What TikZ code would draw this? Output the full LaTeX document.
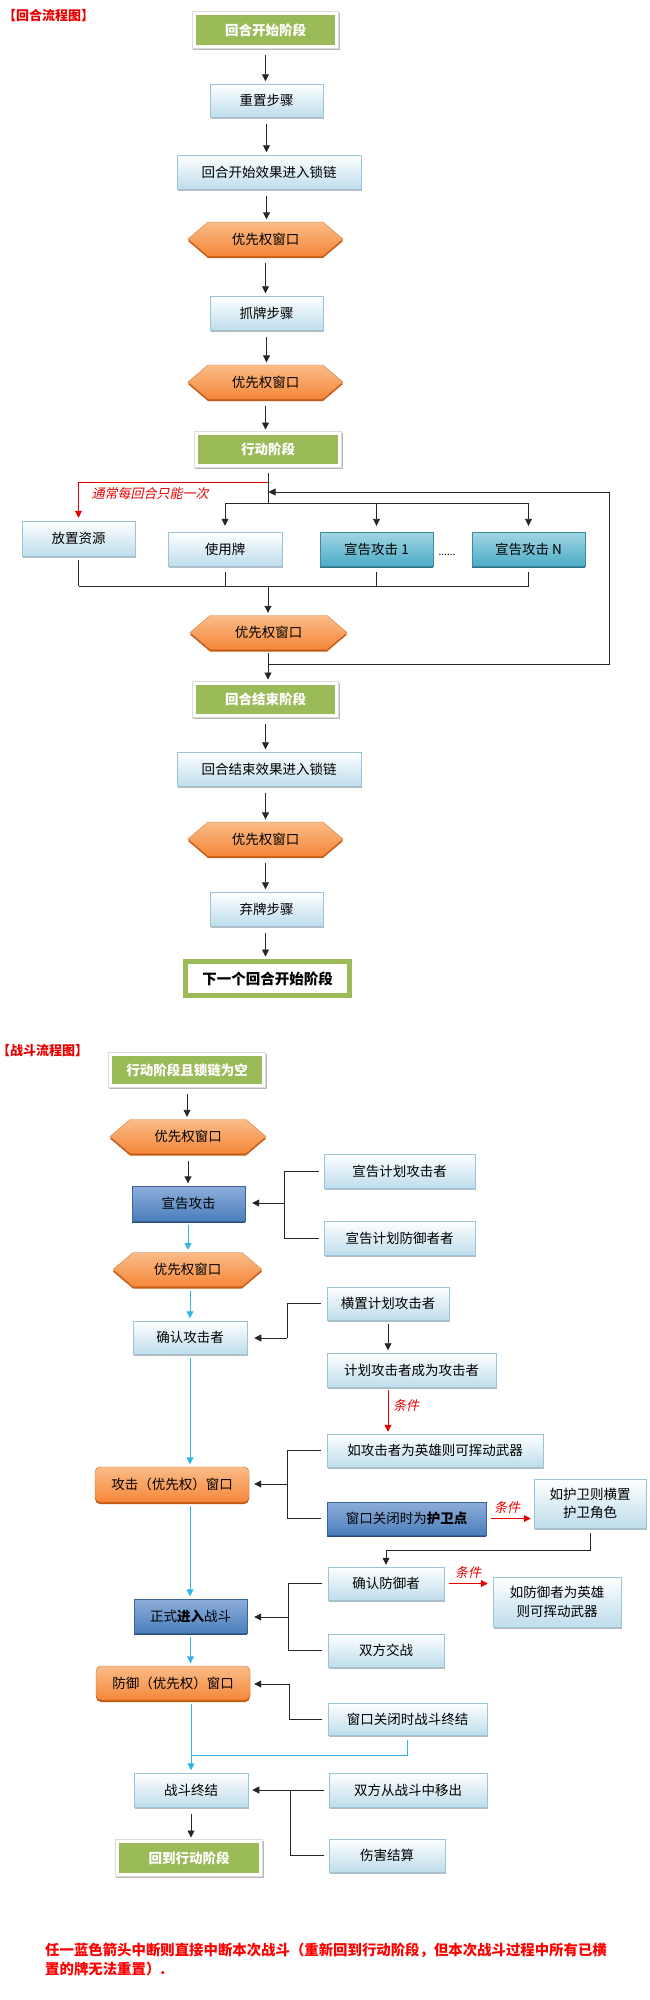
\documentclass[tikz,border=0pt]{standalone}
\usepackage{fontspec}
\setmainfont{Noto Sans CJK SC}
\newfontfamily\slfont[FakeSlant=0.22]{Noto Sans CJK SC}
\usetikzlibrary{arrows.meta,shadows}
\definecolor{gfill}{HTML}{9BBB59}
\definecolor{lbbot}{HTML}{BEDDEC}
\definecolor{lbdraw}{HTML}{9CC3D8}
\definecolor{tealtop}{HTML}{A3D6E5}
\definecolor{tealbot}{HTML}{4BACC6}
\definecolor{tealedge}{HTML}{2C6F82}
\definecolor{bltop}{HTML}{8EAEDC}
\definecolor{blbot}{HTML}{4A7EBB}
\definecolor{bledge}{HTML}{2B4A74}
\definecolor{ortop}{HTML}{FABC88}
\definecolor{orbot}{HTML}{F5873A}
\definecolor{oredge}{HTML}{C65A12}
\definecolor{skyb}{HTML}{33B5E8}
\definecolor{redc}{HTML}{E80000}
\newcommand{\bodyfont}{\fontsize{13.5}{16}\selectfont}
% #1 name, #2 x, #3 y, #4 half width, #5 text
\newcommand{\hexnode}[5]{%
  \fill[oredge] ({#2-#4},{#3+2}) -- ({#2-#4+20},{#3-15}) -- ({#2+#4-20},{#3-15}) -- ({#2+#4},{#3+2}) -- ({#2+#4-20},{#3+19}) -- ({#2-#4+20},{#3+19}) -- cycle;
  \shade[top color=ortop, bottom color=orbot, draw=orbot!85!black, line width=0.3pt] ({#2-#4},{#3}) -- ({#2-#4+20},{#3-17}) -- ({#2+#4-20},{#3-17}) -- ({#2+#4},{#3}) -- ({#2+#4-20},{#3+17}) -- ({#2-#4+20},{#3+17}) -- cycle;
  \node[hexbox, minimum width=2*#4pt] (#1) at (#2,#3) {#5};
}
\begin{document}
\begin{tikzpicture}[x=1pt,y=-1pt,
  bx/.style={rectangle, inner sep=0pt, align=center, font=\bodyfont, text=black},
  hexbox/.style={bx, minimum height=34pt},
  lbox/.style={bx, top color=white, bottom color=lbbot, draw=lbdraw, line width=0.5pt,
     drop shadow={shadow xshift=0.6pt, shadow yshift=-1.8pt, fill=black!45, opacity=0.6}},
  tbox/.style={bx, top color=tealtop, bottom color=tealbot, draw=tealbot!80!black, line width=0.4pt,
     drop shadow={shadow xshift=0pt, shadow yshift=-2pt, fill=tealedge, opacity=1}},
  dbox/.style={bx, top color=bltop, bottom color=blbot, draw=blbot!80!black, line width=0.4pt,
     drop shadow={shadow xshift=0pt, shadow yshift=-2pt, fill=bledge, opacity=1}},
  obox/.style={bx, rounded corners=5pt, top color=ortop, bottom color=orbot, draw=orbot!85!black, line width=0.4pt,
     drop shadow={shadow xshift=0pt, shadow yshift=-2pt, fill=oredge, opacity=1}},
  gbox/.style={bx, fill=gfill, text=white, font=\bodyfont\bfseries, draw=white, line width=3pt,
     preaction={draw=black!28, fill=black!28, line width=4.6pt, transform canvas={xshift=1.2pt,yshift=-1.6pt}},
     preaction={draw=black!14, line width=4.6pt}},
  ln/.style={line width=0.9pt, draw=black!85},
  arr/.style={ln, -{Triangle[length=7pt,width=7pt]}},
  va/.style={arr, shorten <=7pt, shorten >=2.5pt},
  bln/.style={line width=1pt, draw=skyb},
  barr/.style={bln, -{Triangle[length=7pt,width=7pt]}, shorten <=4pt, shorten >=2.5pt},
  rarr/.style={line width=0.9pt, draw=redc, -{Triangle[length=7pt,width=7pt]}},
  rlab/.style={font=\slfont\fontsize{13}{15}\selectfont, text=redc, inner sep=0pt},
  ttl/.style={font=\fontsize{13}{15}\selectfont\bfseries, text=redc, inner sep=0pt, anchor=west}
]
\fill[white] (0,0) rectangle (649,2000);
\useasboundingbox (0,0) rectangle (649,2000);

% ================= round flow chart =================
\node[ttl] (t1) at (3,16) {【回合流程图】};
\node[gbox, minimum width=142pt, minimum height=33pt] (g1) at (265.5,30) {回合开始阶段};
\node[lbox, minimum width=113pt, minimum height=33pt] (b1) at (266.5,100.5) {重置步骤};
\node[lbox, minimum width=184pt, minimum height=34pt] (b2) at (269,172) {回合开始效果进入锁链};
\hexnode{h1}{265.5}{239}{77.5}{优先权窗口}
\node[lbox, minimum width=113pt, minimum height=34pt] (b3) at (266.5,313) {抓牌步骤};
\hexnode{h2}{265.5}{382}{77.5}{优先权窗口}
\node[gbox, minimum width=143pt, minimum height=32pt] (g2) at (268,449.5) {行动阶段};

\draw[va] (g1.south) -- (g1.south |- b1.north);
\draw[va] (b1.south) -- (b1.south |- b2.north);
\draw[va] (b1.south |- b2.south) -- (b1.south |- h1.north);
\draw[va] (h1.south) -- (h1.south |- b3.north);
\draw[va] (b3.south) -- (b3.south |- h2.north);
\draw[va] (h2.south) -- (h2.south |- g2.north);

\node[lbox, minimum width=113pt, minimum height=35pt] (p1) at (78.5,538.5) {放置资源};
\node[lbox, minimum width=114pt, minimum height=34pt] (u1) at (225,549) {使用牌};
\node[tbox, minimum width=113pt, minimum height=34pt] (a1) at (376.5,549) {宣告攻击 1};
\node[tbox, minimum width=113pt, minimum height=34pt] (an) at (528.5,549) {宣告攻击 N};
\node[font=\fontsize{10}{10}\selectfont, inner sep=0pt] (dots) at (447,555) {......};

\coordinate (jr) at (268,482);
\coordinate (jt) at (268,503);
\coordinate (jb) at (268,586);
\draw[ln, shorten <=6pt] (g2.south) -- (jt);
\draw[rarr, shorten >=3pt] (jr) -| (p1.north);
\node[rlab] (lab1) at (150,494) {通常每回合只能一次};
\draw[ln] (u1.north |- jt) -- (an.north |- jt);
\draw[arr, shorten >=6pt] (u1.north |- jt) -- (u1.north);
\draw[arr, shorten >=6pt] (a1.north |- jt) -- (a1.north);
\draw[arr, shorten >=6pt] (an.north |- jt) -- (an.north);

\draw[ln, shorten <=4pt] (p1.south) -- (p1.south |- jb);
\draw[ln, shorten <=6pt] (u1.south) -- (u1.south |- jb);
\draw[ln, shorten <=6pt] (a1.south) -- (a1.south |- jb);
\draw[ln, shorten <=6pt] (an.south) -- (an.south |- jb);
\draw[ln] (p1.south |- jb) -- (an.south |- jb);

\hexnode{h3}{268.5}{632.5}{78.5}{优先权窗口}
\draw[arr, shorten >=2.5pt] (jb) -- (jb |- h3.north);

\node[gbox, minimum width=142pt, minimum height=32pt] (g3) at (265.5,699.5) {回合结束阶段};
\coordinate (lr) at (609,664);
\coordinate (lt) at (609,492);
\draw[va, shorten <=3pt] (jb |- h3.south) -- (jb |- g3.north);
\draw[arr, shorten >=0.5pt] (jb |- lr) -- (lr) -- (lt) -- (jt |- lt);

\node[lbox, minimum width=184pt, minimum height=34pt] (b4) at (269,769) {回合结束效果进入锁链};
\hexnode{h4}{265.5}{839}{77.5}{优先权窗口}
\node[lbox, minimum width=113pt, minimum height=34pt] (b5) at (266.5,909) {弃牌步骤};
\node[bx, draw=gfill, line width=4pt, fill=white, minimum width=165pt, minimum height=35pt,
      font=\fontsize{14.5}{16}\selectfont\bfseries,
      drop shadow={shadow xshift=0.8pt, shadow yshift=-1.2pt, fill=black!30, opacity=0.6}] (fin) at (267.5,978.5) {下一个回合开始阶段};
\draw[gfill, line width=0.9pt] ([shift={(4.5,4.5)}]fin.north west) rectangle ([shift={(-4.5,-4.5)}]fin.south east);

\draw[va] (g3.south) -- (g3.south |- b4.north);
\draw[va] (g3.south |- b4.south) -- (g3.south |- h4.north);
\draw[va] (h4.south) -- (h4.south |- b5.north);
\draw[va] (h4.south |- b5.south) -- (h4.south |- fin.north);

% ================= battle flow chart =================
\node[ttl] (t2) at (-3,1051) {【战斗流程图】};
\node[gbox, minimum width=153pt, minimum height=31pt] (g4) at (187,1070) {行动阶段且锁链为空};
\hexnode{h5}{188}{1136.5}{78}{优先权窗口}
\node[dbox, minimum width=113pt, minimum height=35pt] (d1) at (188.5,1203.5) {宣告攻击};
\node[lbox, minimum width=151pt, minimum height=34pt] (r1) at (399.5,1171) {宣告计划攻击者};
\node[lbox, minimum width=151pt, minimum height=34pt] (r2) at (399.5,1238) {宣告计划防御者者};
\hexnode{h6}{187.5}{1269.5}{74.5}{优先权窗口}

\draw[va] (g4.south) -- (g4.south |- h5.north);
\draw[va] (h5.south) -- (h5.south |- d1.north);
\draw[barr] (h5.south |- d1.south) -- (h5.south |- h6.north);

\coordinate (k1) at (284,1203);
\draw[ln, shorten <=5pt] (r1.west) -| (k1);
\draw[ln, shorten <=5pt] (r2.west) -| (k1);
\draw[arr, shorten >=7pt] (k1) -- (k1 -| d1.east);

\node[lbox, minimum width=114pt, minimum height=33pt] (c1) at (190,1337.5) {确认攻击者};
\node[lbox, minimum width=122pt, minimum height=33pt] (r3) at (388,1303.5) {横置计划攻击者};
\node[lbox, minimum width=169pt, minimum height=34pt] (r4) at (411.5,1370) {计划攻击者成为攻击者};
\node[lbox, minimum width=216pt, minimum height=33pt] (r5) at (435,1450.5) {如攻击者为英雄则可挥动武器};
\draw[barr] (h6.south -| c1.south) -- (c1.north);

\coordinate (k2) at (287,1338);
\draw[ln, shorten <=6pt] (r3.west) -| (k2);
\draw[arr, shorten >=7pt] (k2) -- (k2 -| c1.east);
\draw[va, shorten <=4pt] (r3.south) -- (r3.south |- r4.north);
\draw[rarr, shorten <=3pt, shorten >=2pt] (r3.south |- r4.south) -- (r3.south |- r5.north);
\node[rlab] (lab2) at (406,1406) {条件};

\node[obox, minimum width=154pt, minimum height=35pt] (o1) at (172,1484.5) {攻击（优先权）窗口};
\node[dbox, minimum width=159pt, minimum height=33pt] (d2) at (406.5,1518.5) {窗口关闭时为\textbf{护卫点}};
\node[lbox, minimum width=112pt, minimum height=49pt, font=\fontsize{13.5}{18}\selectfont] (r6) at (590,1503.5) {如护卫则横置\\护卫角色};
\draw[barr] (c1.south) -- (c1.south |- o1.north);

\coordinate (k3) at (287,1484);
\draw[ln, shorten <=6pt] (r5.west) -| (k3);
\draw[ln, shorten <=6pt] (d2.west) -| (k3);
\draw[arr, shorten >=5pt] (k3) -- (k3 -| o1.east);
\draw[rarr, shorten <=5pt, shorten >=3pt] (d2.east) -- (d2.east -| r6.west);
\node[rlab] (lab3) at (507,1508) {条件};

\node[lbox, minimum width=116pt, minimum height=33pt] (r7) at (386,1583.5) {确认防御者};
\node[lbox, minimum width=128pt, minimum height=50pt, font=\fontsize{13.5}{19}\selectfont] (r8) at (557,1602) {如防御者为英雄\\则可挥动武器};
\node[dbox, minimum width=113pt, minimum height=34pt] (d3) at (190.5,1616) {正式\textbf{进入}战斗};
\node[lbox, minimum width=116pt, minimum height=33pt] (r9) at (386,1650.5) {双方交战};

\coordinate (k4) at (590,1550);
\draw[arr, shorten <=5pt, shorten >=2pt] (r6.south) -- (k4) -| (r7.north);
\draw[rarr, shorten <=5pt, shorten >=5pt] (r7.east) -- (r7.east -| r8.west);
\node[rlab] (lab4) at (468,1573) {条件};
\draw[barr] (c1.south |- o1.south) -- (c1.south |- d3.north);

\coordinate (k5) at (288,1617);
\draw[ln, shorten <=6pt] (r7.west) -| (k5);
\draw[ln, shorten <=6pt] (r9.west) -| (k5);
\draw[arr, shorten >=7pt] (k5) -- (k5 -| d3.east);

\node[obox, minimum width=154pt, minimum height=34pt] (o2) at (173,1683) {防御（优先权）窗口};
\node[lbox, minimum width=159pt, minimum height=32pt] (r10) at (407.5,1719) {窗口关闭时战斗终结};
\draw[barr] (d3.south) -- (d3.south |- o2.north);

\coordinate (k6) at (289,1684);
\draw[ln, shorten <=6pt] (r10.west) -| (k6);
\draw[arr, shorten >=4pt] (k6) -- (k6 -| o2.east);

\node[lbox, minimum width=114pt, minimum height=34pt] (e1) at (191,1790) {战斗终结};
\node[lbox, minimum width=158pt, minimum height=34pt] (r11) at (408,1790) {双方从战斗中移出};
\node[lbox, minimum width=116pt, minimum height=33pt] (r12) at (387,1855.5) {伤害结算};
\node[gbox, minimum width=143pt, minimum height=33pt] (g5) at (189,1858) {回到行动阶段};

\coordinate (k7) at (191,1755);
\draw[barr] (k7 |- o2.south) -- (k7 |- e1.north);
\draw[bln, shorten <=5pt] (r10.south) -- (r10.south |- k7) -- (k7);

\coordinate (k8) at (290,1790);
\draw[arr, shorten <=5pt, shorten >=4pt] (r11.west) -- (r11.west -| e1.east);
\draw[ln, shorten <=5pt] (r12.west) -| (k8);
\draw[va] (e1.south) -- (e1.south |- g5.north);

\node[anchor=north west, align=left, inner sep=0pt, text=red,
      font=\fontsize{14.4}{19}\selectfont\bfseries] (note) at (45,1943)
  {任一蓝色箭头中断则直接中断本次战斗（重新回到行动阶段，但本次战斗过程中所有已横\\置的牌无法重置）.};
\end{tikzpicture}
\end{document}
